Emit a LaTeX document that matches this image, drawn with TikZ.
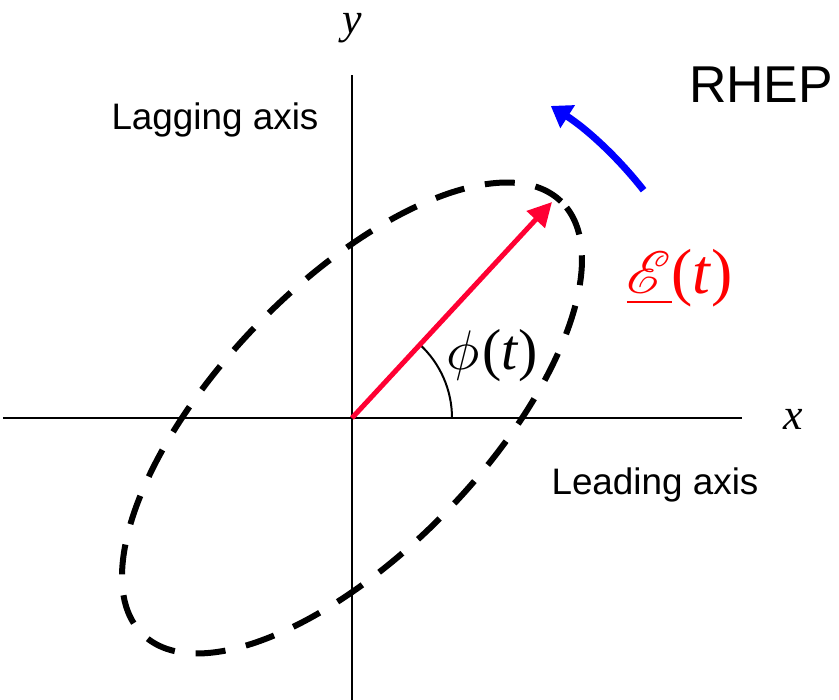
\documentclass[tikz,border=0pt]{standalone}
\usepackage{fontspec}
\setmainfont{Liberation Sans}
\newfontfamily\serifrm{Liberation Serif}
\usepackage{mathrsfs}
\usepackage{graphicx}
\usetikzlibrary{arrows.meta}
\definecolor{vecred}{RGB}{255,0,51}
\tikzset{
  axisline/.style={line width=2bp},
  lbl/.style={inner sep=0pt, font=\fontsize{37}{40}\selectfont},
  mathlbl/.style={inner sep=0pt},
}
\begin{document}
\begin{tikzpicture}[x=1bp,y=1bp]
\useasboundingbox (-352,-282) rectangle (487,418);
\coordinate (O) at (0,0);
\coordinate (xl) at (-349,0);
\coordinate (xr) at (390,0);
\coordinate (yt) at (0,343);
\coordinate (yb) at (0,-282);
\draw[axisline] (xl) -- (xr);
\draw[axisline] (yb) -- (yt);
% ellipse
\draw[line width=6bp, dash pattern=on 30bp off 21bp, rotate=46] (O) ellipse [x radius=301, y radius=133];
% angle arc
\draw[line width=2bp] (100,0) arc[start angle=0, end angle=47.2, radius=100];
% vector
\coordinate (tip) at (200,216);
\draw[line width=5bp, vecred, -{Triangle[length=24bp,width=24bp]}] (O) -- (tip);
% rotation arrow
\coordinate (bs) at (38:370);
\draw[line width=7bp, blue, -{Triangle[length=20bp,width=26bp]}] (bs) arc[start angle=38, end angle=57.5, radius=370];
% labels
\node[mathlbl] (ylab) at (0,390) {\fontsize{44}{48}\selectfont\serifrm\itshape y};
\node[mathlbl] (xlab) at (441,-1) {\fontsize{44}{48}\selectfont\serifrm\itshape x};
\node[lbl] (lag) at (-137,298) {Lagging axis};
\node[lbl] (lead) at (303,-67) {Leading axis};
\node[inner sep=0pt, font=\fontsize{52}{56}\selectfont] (rhep) at (409,333) {RHEP};
\node[mathlbl, text=red] (elab) at (328,140) {\scalebox{6}{$\underline{\mathscr{E}}$}{\fontsize{64}{68}\selectfont\serifrm(\textit{t})}};
\node[mathlbl] (philab) at (140,62) {\scalebox{5.6}{$\phi$}\hspace{3bp}{\fontsize{58}{62}\selectfont\serifrm(\textit{t})}};
\end{tikzpicture}
\end{document}
